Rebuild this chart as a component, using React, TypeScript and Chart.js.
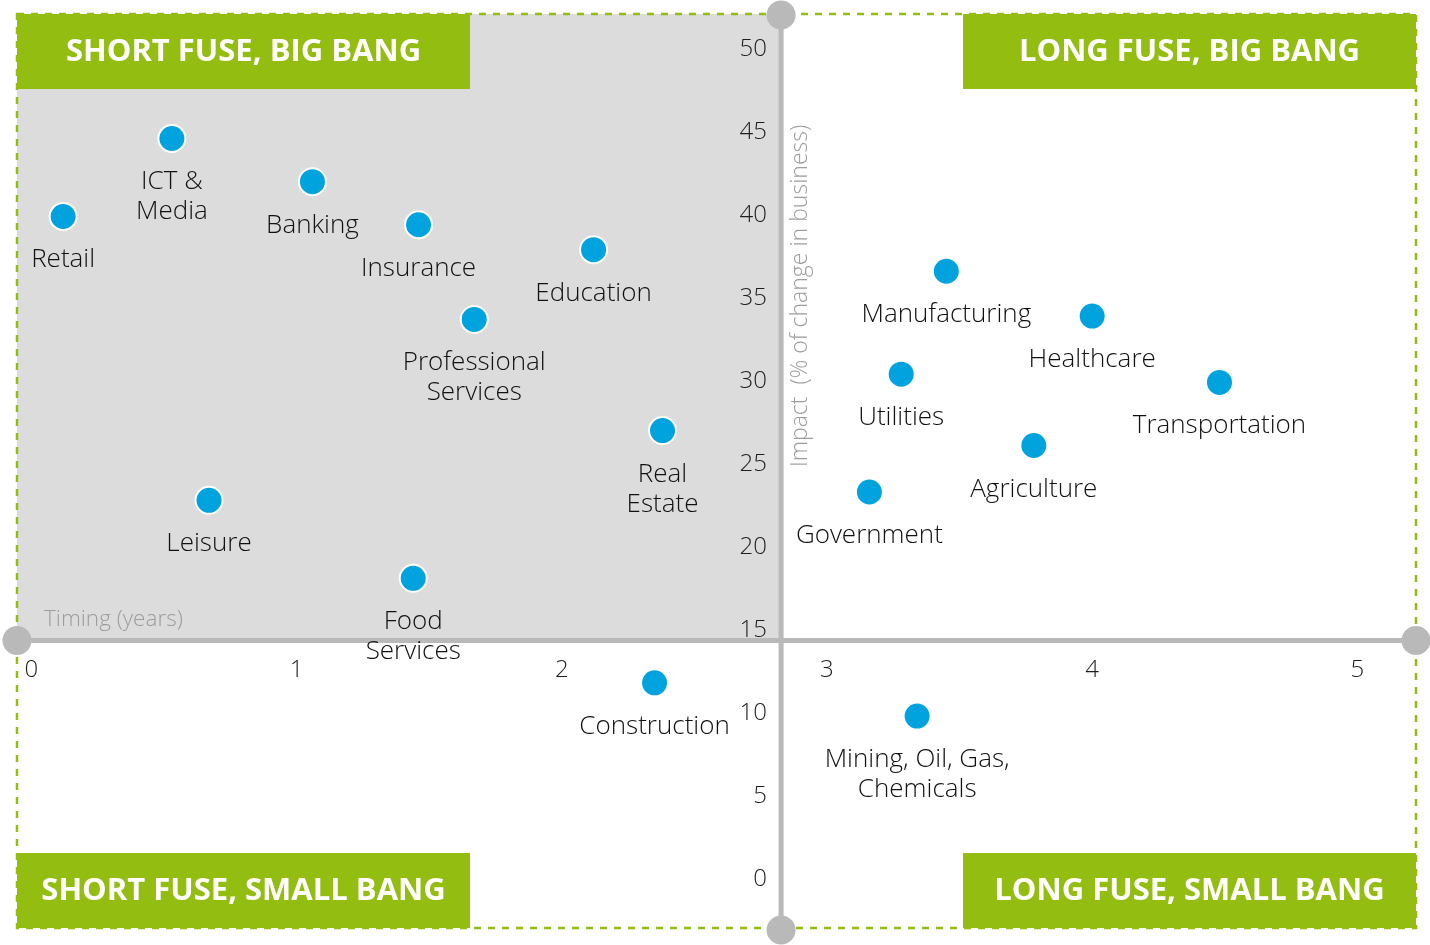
import React, { useEffect, useRef } from 'react';
import { Chart, registerables } from 'chart.js';

Chart.register(...registerables);

// ---- data ----
const industries = [
  'Retail',
  'ICT &\nMedia',
  'Banking',
  'Insurance',
  'Education',
  'Professional\nServices',
  'Real\nEstate',
  'Leisure',
  'Food\nServices',
  'Construction',
  'Manufacturing',
  'Healthcare',
  'Transportation',
  'Utilities',
  'Agriculture',
  'Government',
  'Mining, Oil, Gas,\nChemicals',
];
const timingYears = [0.12, 0.53, 1.06, 1.46, 2.12, 1.67, 2.38, 0.67, 1.44, 2.35, 3.45, 4.0, 4.48, 3.28, 3.78, 3.16, 3.34];
const impactPct = [39.8, 44.5, 41.9, 39.3, 37.8, 33.6, 26.9, 22.7, 18.0, 11.7, 36.5, 33.8, 29.8, 30.3, 26.0, 23.2, 9.7];

const xTickValues = [0, 1, 2, 3, 4, 5];
const yTickValues = [0, 5, 10, 15, 20, 25, 30, 35, 40, 45, 50];

const quadrantTitles = ['SHORT FUSE, BIG BANG', 'LONG FUSE, BIG BANG', 'SHORT FUSE, SMALL BANG', 'LONG FUSE, SMALL BANG'];
const xAxisTitle = 'Timing (years)';
const yAxisTitle = 'Impact  (% of change in business)';

// scale ranges and the point where the two axes cross
const X_MIN = -0.054;
const X_MAX = 5.221;
const Y_MIN = -3.07;
const Y_MAX = 52;
const CROSS_X = 2.827;
const CROSS_Y = 14.25;
// y tick labels sit a little to the left of the vertical axis line
const Y_LABEL_X = CROSS_X - 0.053;

// ---- styles ----
const GREEN = '#94bd12';
const AXIS_GRAY = '#b9b9b9';
const QUAD_GRAY = '#dcdcdc';
const DOT_BLUE = '#00a3de';
const FONT = '"Open Sans", "Noto Sans", sans-serif';

const quadrantPlugin = {
  id: 'quadrants',
  beforeDraw(chart: any) {
    const { ctx, chartArea: ca, scales } = chart;
    const cx = scales.x.getPixelForValue(CROSS_X);
    const cy = scales.y.getPixelForValue(CROSS_Y);
    ctx.save();
    // shaded quadrant
    ctx.fillStyle = QUAD_GRAY;
    ctx.fillRect(ca.left, ca.top, cx - ca.left, cy - ca.top);

    // green title boxes
    const bw = 453;
    const bh = 75;
    const boxes = [
      [ca.left, ca.top],
      [ca.right - bw, ca.top],
      [ca.left, ca.bottom - bh],
      [ca.right - bw, ca.bottom - bh],
    ];
    ctx.font = `bold 31px ${FONT}`;
    ctx.textAlign = 'center';
    ctx.textBaseline = 'middle';
    boxes.forEach(([bx, by], i) => {
      ctx.fillStyle = GREEN;
      ctx.fillRect(bx, by, bw, bh);
      ctx.fillStyle = '#ffffff';
      ctx.fillText(quadrantTitles[i], bx + bw / 2, by + bh / 2 + 1);
    });

    // dashed frame
    ctx.strokeStyle = GREEN;
    ctx.lineWidth = 2.5;
    ctx.setLineDash([7, 7]);
    ctx.strokeRect(ca.left, ca.top, ca.right - ca.left, ca.bottom - ca.top);
    ctx.setLineDash([]);

    // axis lines
    ctx.strokeStyle = AXIS_GRAY;
    ctx.lineWidth = 5;
    ctx.beginPath();
    ctx.moveTo(ca.left, cy);
    ctx.lineTo(ca.right, cy);
    ctx.moveTo(cx, ca.top);
    ctx.lineTo(cx, ca.bottom);
    ctx.stroke();

    // end circles
    ctx.fillStyle = AXIS_GRAY;
    [
      [ca.left, cy],
      [ca.right, cy],
      [cx, ca.top + 1],
      [cx, ca.bottom + 2],
    ].forEach(([px, py]) => {
      ctx.beginPath();
      ctx.arc(px, py, 14.5, 0, Math.PI * 2);
      ctx.fill();
    });

    // axis titles
    ctx.fillStyle = '#9d9d9d';
    ctx.font = `300 22.5px ${FONT}`;
    ctx.textAlign = 'left';
    ctx.textBaseline = 'alphabetic';
    ctx.fillText(xAxisTitle, ca.left + 27, cy - 15);

    ctx.font = `300 23px ${FONT}`;
    ctx.translate(cx + 26, scales.y.getPixelForValue(25) + 5);
    ctx.rotate(-Math.PI / 2);
    ctx.textAlign = 'left';
    ctx.fillText(yAxisTitle, 0, 0);
    ctx.restore();
  },
  afterDatasetsDraw(chart: any) {
    const { ctx } = chart;
    const meta = chart.getDatasetMeta(0);
    ctx.save();
    ctx.fillStyle = '#111111';
    ctx.font = `300 26px ${FONT}`;
    ctx.textAlign = 'center';
    ctx.textBaseline = 'alphabetic';
    meta.data.forEach((pt: any, i: number) => {
      const lines = industries[i].split('\n');
      lines.forEach((line, j) => {
        ctx.fillText(line, pt.x, pt.y + 51 + j * 30);
      });
    });
    ctx.restore();
  },
};

export default function App() {
  const canvasRef = useRef<HTMLCanvasElement | null>(null);

  useEffect(() => {
    if (!canvasRef.current) return;
    const chart = new Chart(canvasRef.current, {
      type: 'scatter',
      data: {
        datasets: [
          {
            label: 'Industries',
            data: timingYears.map((t, i) => ({ x: t, y: impactPct[i] })),
            backgroundColor: DOT_BLUE,
            borderColor: '#ffffff',
            borderWidth: 2,
            pointRadius: 13.5,
            pointHoverRadius: 13.5,
          },
        ],
      },
      options: {
        animation: false,
        responsive: false,
        maintainAspectRatio: false,
        events: [],
        layout: { autoPadding: false, padding: { left: 17, top: 14, right: 14, bottom: 17 } },
        plugins: {
          legend: { display: false },
          tooltip: { enabled: false },
          title: { display: false },
        },
        scales: {
          x: {
            type: 'linear',
            min: X_MIN,
            max: X_MAX,
            position: { y: CROSS_Y },
            afterBuildTicks: (scale: any) => {
              scale.ticks = xTickValues.map((v) => ({ value: v }));
            },
            grid: { display: false, drawTicks: false },
            border: { display: false },
            ticks: {
              padding: 0,
              color: '#1e1e1e',
              font: { family: FONT, size: 24, weight: '300', lineHeight: 2.46 },
              maxRotation: 0,
              autoSkip: false,
            },
          },
          y: {
            type: 'linear',
            min: Y_MIN,
            max: Y_MAX,
            position: { x: Y_LABEL_X },
            afterBuildTicks: (scale: any) => {
              scale.ticks = yTickValues.map((v) => ({ value: v }));
            },
            grid: { display: false, drawTicks: false },
            border: { display: false },
            ticks: {
              padding: 0,
              labelOffset: 2,
              color: '#1e1e1e',
              font: { family: FONT, size: 24, weight: '300', lineHeight: 1.1 },
              autoSkip: false,
            },
          },
        },
      },
      plugins: [quadrantPlugin],
    });
    return () => chart.destroy();
  }, []);

  return (
    <div style={{ position: 'absolute', left: 0, top: 0, width: 1430, height: 945, background: '#ffffff' }}>
      <canvas ref={canvasRef} width={1430} height={945} />
    </div>
  );
}
